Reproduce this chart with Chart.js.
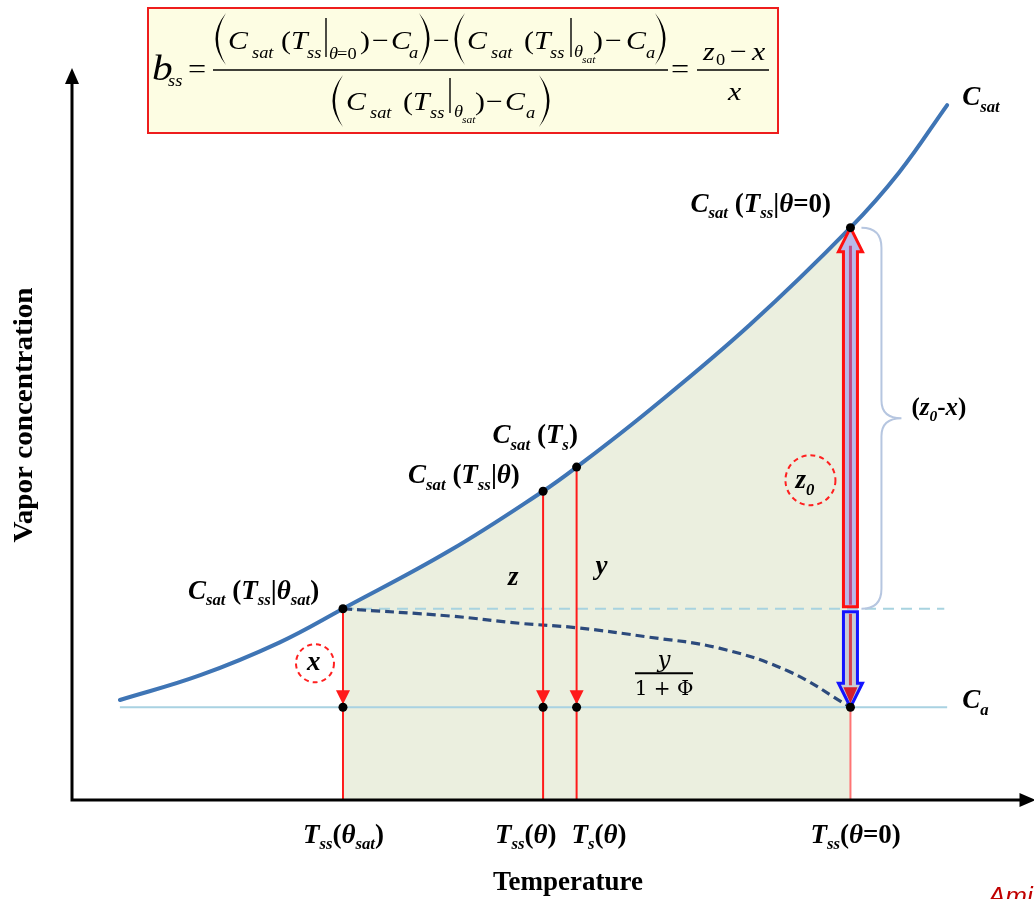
<!DOCTYPE html>
<html>
<head>
<meta charset="utf-8">
<title>Vapor concentration vs temperature</title>
<script src="https://cdn.jsdelivr.net/npm/chart.js@4.4.0/dist/chart.umd.min.js"></script>
<style>
    html, body { margin: 0; padding: 0; background: #fff; }
    #wrap { width: 1034px; height: 899px; }
</style>
</head>
<body>
<div id="wrap"><canvas id="chart" width="1034" height="899"></canvas></div>
<script>
// Saturation curve Csat(T) (arbitrary units 0-100 on both axes)
const csatTemp = [5.0, 13.4, 21.7, 28.3, 39.5, 49.2, 52.7, 60.3, 70.8, 81.3, 86.4, 91.4];
const csatConc = [13.7, 17.1, 21.6, 26.2, 34.2, 42.3, 45.6, 53.4, 65.1, 78.4, 86.0, 95.2];

// Ambient concentration Ca and its extent
const ambientConc = 12.7;
const ambientTemp = [5.0, 91.4];

// Light dashed reference at Csat(Tss|θsat)
const satRefTemp = [28.3, 91.1];

// Marked temperatures: Tss(θsat), Tss(θ), Ts(θ), Tss(θ=0)
const markTemps = [28.3, 49.2, 52.7, 81.3];
const markConc = [26.2, 42.3, 45.6, 78.4];

// Dark dashed curve y/(1+Φ) + Ca
const dashTemp = [28.3, 39.5, 46.8, 52.7, 60.3, 67.6, 74.9, 81.3];
const dashConc = [26.2, 25.2, 24.2, 23.6, 22.3, 20.8, 17.6, 12.7];

// Tick labels under the marked temperatures (runs: text, kind)
// kinds: i = italic, n = upright, s = italic subscript
const tickLabels = [
    [['T', 'i'], ['ss', 's'], ['(', 'n'], ['θ', 'i'], ['sat', 's'], [')', 'n']],
    [['T', 'i'], ['ss', 's'], ['(', 'n'], ['θ', 'i'], [')', 'n']],
    [['T', 'i'], ['s', 's'], ['(', 'n'], ['θ', 'i'], [')', 'n']],
    [['T', 'i'], ['ss', 's'], ['(', 'n'], ['θ', 'i'], ['=0)', 'n']]
];
const pointLabels = [
    [['C', 'i'], ['sat', 's'], [' (', 'n'], ['T', 'i'], ['ss', 's'], ['|', 'n'], ['θ', 'i'], ['sat', 's'], [')', 'n']],
    [['C', 'i'], ['sat', 's'], [' (', 'n'], ['T', 'i'], ['ss', 's'], ['|', 'n'], ['θ', 'i'], [')', 'n']],
    [['C', 'i'], ['sat', 's'], [' (', 'n'], ['T', 'i'], ['s', 's'], [')', 'n']],
    [['C', 'i'], ['sat', 's'], [' (', 'n'], ['T', 'i'], ['ss', 's'], ['|', 'n'], ['θ', 'i'], ['=0)', 'n']]
];

const SERIF = '"Liberation Serif", "Times New Roman", serif';
const SHADE = '#ebefdf';

const pts = (xs, ys) => xs.map((v, i) => ({ x: v, y: ys[i] }));

function drawRich(ctx, runs, x, y, size, bold) {
    let cx = x;
    runs.forEach(([t, k]) => {
        const sub = k === 's';
        const fs = sub ? size * 0.62 : size;
        ctx.font = `${k !== 'n' ? 'italic ' : ''}${bold ? 'bold ' : ''}${fs}px ${SERIF}`;
        ctx.fillText(t, cx, y + (sub ? size * 0.24 : 0));
        cx += ctx.measureText(t).width;
    });
}

function drawParen(ctx, edge, top, bottom, dir) {
    const w = 11, mid = (top + bottom) / 2;
    ctx.beginPath();
    ctx.moveTo(edge + dir * w, top);
    ctx.quadraticCurveTo(edge - dir * 10, mid, edge + dir * w, bottom);
    ctx.quadraticCurveTo(edge - dir * 5, mid, edge + dir * w, top);
    ctx.fill();
}

// the formula in the yellow box: x, baseline, text, size, italic
const formulaPieces = [
    [152, 80, 'b', 36, 1], [168, 86, 'ss', 16, 1], [188, 78, '=', 28, 0],
    [228, 49, 'C', 26, 1], [252, 58, 'sat', 16, 1], [281, 49, '(', 26, 0], [291, 49, 'T', 26, 1], [307, 58, 'ss', 16, 1],
    [329, 59, 'θ', 16, 1], [337, 59, '=0', 16, 0], [360, 49, ')', 26, 0], [372, 49, '−', 26, 0], [391, 49, 'C', 26, 1],
    [409, 58, 'a', 16, 1], [433, 49, '−', 26, 0],
    [467, 49, 'C', 26, 1], [491, 58, 'sat', 16, 1], [524, 49, '(', 26, 0], [534, 49, 'T', 26, 1], [550, 58, 'ss', 16, 1],
    [574, 57, 'θ', 16, 1], [582, 63, 'sat', 10, 1], [593, 49, ')', 26, 0], [605, 49, '−', 26, 0], [626, 49, 'C', 26, 1],
    [646, 58, 'a', 16, 1],
    [346, 110, 'C', 26, 1], [370, 118, 'sat', 16, 1], [403, 110, '(', 26, 0], [413, 110, 'T', 26, 1], [430, 118, 'ss', 16, 1],
    [454, 117, 'θ', 16, 1], [462, 123, 'sat', 10, 1], [475, 110, ')', 26, 0], [486, 110, '−', 26, 0], [505, 110, 'C', 26, 1],
    [526, 118, 'a', 16, 1],
    [671, 78, '=', 28, 0],
    [703, 60, 'z', 26, 1], [716, 65, '0', 16, 0], [730, 60, '−', 26, 0], [752, 60, 'x', 26, 1], [728, 100, 'x', 26, 1]
];
const formulaParens = [[215, 13, 65, 1], [430, 13, 65, -1], [454, 13, 65, 1], [666, 13, 65, -1], [332, 75, 127, 1], [550, 75, 127, -1]];
const formulaBars = [[326, 18, 57], [571, 18, 57], [450, 78, 113]];
const formulaRules = [[213, 668, 70], [697, 769, 70]];

function drawFormula(ctx) {
    ctx.save();
    ctx.fillStyle = '#fdfde3';
    ctx.fillRect(148, 8, 630, 125);
    ctx.strokeStyle = '#ee1d1d';
    ctx.lineWidth = 2;
    ctx.strokeRect(148, 8, 630, 125);
    ctx.fillStyle = '#000';
    ctx.strokeStyle = '#000';
    formulaPieces.forEach(([x, y, t, s, it]) => {
        ctx.font = `${it ? 'italic ' : ''}${s}px ${SERIF}`;
        ctx.save();
        ctx.translate(x, y);
        ctx.scale(1.15, 1);
        ctx.fillText(t, 0, 0);
        ctx.restore();
    });
    formulaParens.forEach(([e, t, b, d]) => drawParen(ctx, e, t, b, d));
    ctx.lineWidth = 1.4;
    formulaBars.forEach(([x, t, b]) => {
        ctx.beginPath(); ctx.moveTo(x, t); ctx.lineTo(x, b); ctx.stroke();
    });
    ctx.lineWidth = 1.6;
    formulaRules.forEach(([a, b, y]) => {
        ctx.beginPath(); ctx.moveTo(a, y); ctx.lineTo(b, y); ctx.stroke();
    });
    ctx.restore();
}

function blockArrow(ctx, px, from, to, fill, stroke) {
    // shaft starts at "from", tip at "to"
    const dir = to < from ? -1 : 1;
    const headBase = to - dir * 24;
    ctx.beginPath();
    ctx.moveTo(px - 7, from);
    ctx.lineTo(px - 7, headBase);
    ctx.lineTo(px - 12, headBase);
    ctx.lineTo(px, to);
    ctx.lineTo(px + 12, headBase);
    ctx.lineTo(px + 7, headBase);
    ctx.lineTo(px + 7, from);
    ctx.closePath();
    ctx.fillStyle = fill;
    ctx.fill();
    ctx.strokeStyle = stroke;
    ctx.lineWidth = 3;
    ctx.lineJoin = 'miter';
    ctx.stroke();
    return headBase;
}

const diagramPlugin = {
    id: 'diagram',
    beforeDatasetDraw(chart, args) {
        if (chart.data.datasets[args.index].label !== 'dots') return;
        const { ctx, scales: { x, y } } = chart;
        const ya = y.getPixelForValue(ambientConc);
        ctx.save();
        // red arrow heads on the drop lines
        ctx.fillStyle = '#ff1a1a';
        markTemps.slice(0, 3).forEach(t => {
            const px = x.getPixelForValue(t);
            ctx.beginPath();
            ctx.moveTo(px - 7, ya - 17);
            ctx.lineTo(px + 7, ya - 17);
            ctx.lineTo(px, ya - 3);
            ctx.closePath();
            ctx.fill();
        });
        // z0 arrow (up) and x arrow (down) at Tss(θ=0)
        const px = x.getPixelForValue(markTemps[3]);
        const yTop = y.getPixelForValue(markConc[3]);
        const yRef = y.getPixelForValue(markConc[0]);
        const hb = blockArrow(ctx, px, yRef - 2, yTop, '#b9b9ea', '#ff1010');
        ctx.strokeStyle = '#c24a86';
        ctx.lineWidth = 3;
        ctx.beginPath(); ctx.moveTo(px, yRef - 4); ctx.lineTo(px, hb - 6); ctx.stroke();

        const hb2 = blockArrow(ctx, px, yRef + 3, ya, '#c9ccd4', '#1414ff');
        ctx.strokeStyle = '#d8404c';
        ctx.beginPath(); ctx.moveTo(px, yRef + 5); ctx.lineTo(px, hb2 + 2); ctx.stroke();
        ctx.fillStyle = '#d41f2c';
        ctx.beginPath();
        ctx.moveTo(px - 7, hb2 + 4);
        ctx.lineTo(px + 7, hb2 + 4);
        ctx.lineTo(px, ya - 4);
        ctx.closePath();
        ctx.fill();
        ctx.restore();
    },
    afterDatasetsDraw(chart) {
        const { ctx, chartArea: a, scales: { x, y } } = chart;
        ctx.save();

        // axes with arrow heads
        ctx.strokeStyle = '#000';
        ctx.fillStyle = '#000';
        ctx.lineWidth = 3;
        ctx.beginPath();
        ctx.moveTo(a.left, a.bottom);
        ctx.lineTo(a.left, a.top + 12);
        ctx.moveTo(a.left - 1.5, a.bottom);
        ctx.lineTo(a.right - 8, a.bottom);
        ctx.stroke();
        ctx.beginPath();
        ctx.moveTo(a.left, a.top - 2);
        ctx.lineTo(a.left - 7, a.top + 14);
        ctx.lineTo(a.left + 7, a.top + 14);
        ctx.closePath();
        ctx.fill();
        ctx.beginPath();
        ctx.moveTo(a.right + 6, a.bottom);
        ctx.lineTo(a.right - 10, a.bottom - 7);
        ctx.lineTo(a.right - 10, a.bottom + 7);
        ctx.closePath();
        ctx.fill();

        // brace for (z0 - x)
        const px = x.getPixelForValue(markTemps[3]);
        const yTop = y.getPixelForValue(markConc[3]);
        const yRef = y.getPixelForValue(markConc[0]);
        const mid = (yTop + yRef) / 2;
        ctx.strokeStyle = '#b6c6e0';
        ctx.lineWidth = 2;
        ctx.beginPath();
        ctx.moveTo(px + 11, yTop);
        ctx.quadraticCurveTo(px + 31, yTop, px + 31, yTop + 20);
        ctx.lineTo(px + 31, mid - 18);
        ctx.quadraticCurveTo(px + 31, mid, px + 51, mid);
        ctx.quadraticCurveTo(px + 31, mid, px + 31, mid + 18);
        ctx.lineTo(px + 31, yRef - 20);
        ctx.quadraticCurveTo(px + 31, yRef, px + 11, yRef);
        ctx.stroke();

        // dashed circles around x and z0
        ctx.strokeStyle = '#ff2020';
        ctx.lineWidth = 2;
        ctx.setLineDash([5, 4]);
        const x0 = x.getPixelForValue(markTemps[0]);
        const ya = y.getPixelForValue(ambientConc);
        ctx.beginPath(); ctx.arc(x0 - 28, ya - 44, 19, 0, Math.PI * 2); ctx.stroke();
        ctx.beginPath(); ctx.arc(px - 40, mid + 62, 25, 0, Math.PI * 2); ctx.stroke();
        ctx.setLineDash([]);

        // text labels
        ctx.fillStyle = '#000';
        ctx.textBaseline = 'alphabetic';
        ctx.textAlign = 'left';
        const labelOffsets = [[-155, -10], [-135, -8], [-84, -24], [-160, -16]];
        markTemps.forEach((t, i) => {
            const lx = x.getPixelForValue(t) + labelOffsets[i][0];
            const ly = y.getPixelForValue(markConc[i]) + labelOffsets[i][1];
            drawRich(ctx, pointLabels[i], lx, ly, 27, true);
        });
        const tickOffsets = [-40, -48, -5, -40];
        markTemps.forEach((t, i) => {
            drawRich(ctx, tickLabels[i], x.getPixelForValue(t) + tickOffsets[i], a.bottom + 43, 27, true);
        });

        const xEnd = x.getPixelForValue(csatTemp[csatTemp.length - 1]);
        drawRich(ctx, [['C', 'i'], ['sat', 's']], xEnd + 15, y.getPixelForValue(csatConc[csatConc.length - 1]), 27, true);
        drawRich(ctx, [['C', 'i'], ['a', 's']], x.getPixelForValue(ambientTemp[1]) + 15, ya + 1, 27, true);

        drawRich(ctx, [['z', 'i']], x.getPixelForValue(markTemps[1]) - 35, ya - 122, 27, true);
        drawRich(ctx, [['y', 'i']], x.getPixelForValue(markTemps[2]) + 19, ya - 133, 27, true);
        drawRich(ctx, [['x', 'i']], x0 - 36, ya - 37, 27, true);
        drawRich(ctx, [['z', 'i'], ['0', 's']], px - 55, mid + 70, 27, true);
        drawRich(ctx, [['(', 'n'], ['z', 'i'], ['0', 's'], ['-', 'n'], ['x', 'i'], [')', 'n']], px + 61, mid - 3, 25, true);

        // y / (1 + Φ)
        const fx = 664, fy = ya - 34;
        ctx.textAlign = 'center';
        ctx.font = `italic 23px "DejaVu Serif", serif`;
        ctx.fillText('y', fx, fy - 6);
        ctx.font = `20px "DejaVu Serif", serif`;
        ctx.fillText('1 + Φ', fx, fy + 22);
        ctx.lineWidth = 2;
        ctx.strokeStyle = '#000';
        ctx.beginPath(); ctx.moveTo(fx - 29, fy); ctx.lineTo(fx + 29, fy); ctx.stroke();

        // axis titles
        ctx.font = `bold 27px ${SERIF}`;
        ctx.fillText('Temperature', 568, 890);
        ctx.save();
        ctx.translate(32, 415);
        ctx.rotate(-Math.PI / 2);
        const tw = ctx.measureText('Vapor concentration').width;
        ctx.scale(255 / tw, 1);
        ctx.fillText('Vapor concentration', 0, 0);
        ctx.restore();

        ctx.textAlign = 'left';
        ctx.fillStyle = '#c00000';
        ctx.font = `italic 26px "Liberation Sans", sans-serif`;
        ctx.fillText('Ami', 988, 905);

        ctx.restore();
    },
    afterDraw(chart) {
        drawFormula(chart.ctx);
    }
};

const dropLines = [];
markTemps.slice(0, 3).forEach((t, i) => {
    dropLines.push({ x: t, y: markConc[i] }, { x: t, y: 0 }, { x: t, y: null });
});

const dots = markTemps.map((t, i) => ({ x: t, y: markConc[i] }))
    .concat(markTemps.map(t => ({ x: t, y: ambientConc })));

// shade only the part of the curve between Tss(θsat) and Tss(θ=0)
const inBand = c => c.p0.parsed.x >= markTemps[0] - 1e-9 && c.p1.parsed.x <= markTemps[3] + 1e-9;

new Chart(document.getElementById('chart'), {
    type: 'line',
    data: {
        datasets: [
            {
                label: 'shade', data: pts(csatTemp, csatConc), fill: 'origin', backgroundColor: SHADE,
                borderWidth: 0, tension: 0.4, order: 9,
                segment: { backgroundColor: c => inBand(c) ? SHADE : 'rgba(0,0,0,0)' }
            },
            {
                label: 'Ca', data: pts(ambientTemp, [ambientConc, ambientConc]),
                borderColor: '#a9d2e2', borderWidth: 2, order: 6
            },
            {
                label: 'satRef', data: pts(satRefTemp, [markConc[0], markConc[0]]),
                borderColor: '#a8d3e0', borderWidth: 2, borderDash: [11, 7], order: 6
            },
            {
                label: 'y/(1+Φ)', data: pts(dashTemp, dashConc),
                borderColor: '#2c4a7c', borderWidth: 3.2, borderDash: [9, 5],
                tension: 0.4, order: 5
            },
            {
                label: 'drops', data: dropLines, borderColor: '#ff1a1a', borderWidth: 2,
                spanGaps: false, order: 4
            },
            {
                label: 'drop0', data: [{ x: markTemps[3], y: ambientConc }, { x: markTemps[3], y: 0 }],
                borderColor: '#ff7474', borderWidth: 2, order: 4
            },
            {
                label: 'Csat', data: pts(csatTemp, csatConc), borderColor: '#3f75b5', borderWidth: 4,
                tension: 0.4, borderCapStyle: 'round', order: 2
            },
            {
                label: 'dots', data: dots, showLine: false, pointRadius: 4.5,
                pointBackgroundColor: '#000', pointBorderWidth: 0, order: 0
            }
        ]
    },
    options: {
        responsive: false,
        animation: false,
        events: [],
        layout: { padding: { left: 72, right: 4, top: 70, bottom: 99 } },
        scales: {
            x: { type: 'linear', min: 0, max: 100, display: false },
            y: { type: 'linear', min: 0, max: 100, display: false }
        },
        elements: { point: { radius: 0 } },
        plugins: { legend: { display: false }, tooltip: { enabled: false } }
    },
    plugins: [diagramPlugin]
});
</script>
</body>
</html>
